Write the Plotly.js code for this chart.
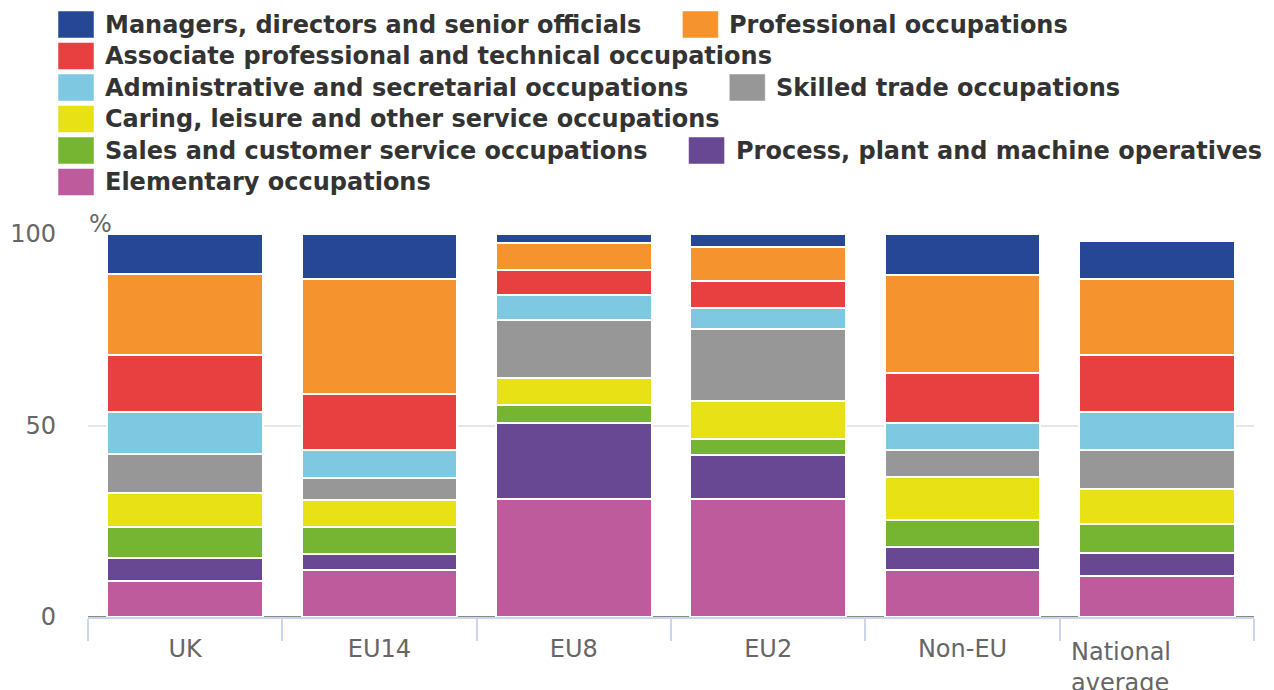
<!DOCTYPE html>
<html>
<head>
<meta charset="utf-8">
<script src="https://cdn.plot.ly/plotly-3.0.1.min.js"></script>
<style>
  html, body { margin: 0; padding: 0; background: #fff; }
  #graph { width: 1274px; height: 690px; }
</style>
</head>
<body>
<div id="graph"></div>
<script>
const groups = ['UK', 'EU14', 'EU8', 'EU2', 'Non-EU', 'National average'];

// shares in %, one value per group
const elementary   = [9.5, 12.4, 30.7, 30.7, 12.4, 10.7];
const process      = [6.0, 4.1, 20.0, 11.7, 5.9, 5.9];
const sales        = [8.0, 7.1, 4.6, 4.1, 7.0, 7.7];
const caring       = [9.0, 7.0, 7.1, 10.0, 11.2, 9.2];
const skilled      = [10.0, 5.8, 15.2, 18.8, 7.0, 10.1];
const admin        = [11.0, 7.2, 6.6, 5.3, 7.2, 10.0];
const associate    = [15.0, 14.7, 6.4, 7.0, 12.9, 14.7];
const professional = [21.0, 29.9, 7.0, 8.9, 25.8, 20.0];
const managers     = [10.5, 11.8, 2.4, 3.5, 10.6, 9.9];

// bottom to top of the stack
const series = [
    {name: 'Elementary occupations', values: elementary, color: '#bd5b9c'},
    {name: 'Process, plant and machine operatives', values: process, color: '#684793'},
    {name: 'Sales and customer service occupations', values: sales, color: '#76b531'},
    {name: 'Caring, leisure and other service occupations', values: caring, color: '#e8e116'},
    {name: 'Skilled trade occupations', values: skilled, color: '#979797'},
    {name: 'Administrative and secretarial occupations', values: admin, color: '#7ec8e1'},
    {name: 'Associate professional and technical occupations', values: associate, color: '#e83f40'},
    {name: 'Professional occupations', values: professional, color: '#f5932f'},
    {name: 'Managers, directors and senior officials', values: managers, color: '#264795'},
];

// how the legend wraps in the picture
const legendRows = [
    ['Managers, directors and senior officials', 'Professional occupations'],
    ['Associate professional and technical occupations'],
    ['Administrative and secretarial occupations', 'Skilled trade occupations'],
    ['Caring, leisure and other service occupations'],
    ['Sales and customer service occupations', 'Process, plant and machine operatives'],
    ['Elementary occupations'],
];

const W = 1274, H = 690;
const margin = {l: 88, r: 20, t: 234, b: 73};
const plotW = W - margin.l - margin.r;
const plotH = H - margin.t - margin.b;
const toPaperX = x => (x - margin.l) / plotW;
const toPaperY = y => (H - margin.b - y) / plotH;

const legendFont = 'bold 24px "DejaVu Sans"';
const canvas = document.createElement('canvas').getContext('2d');
canvas.font = legendFont;

function buildLegend() {
    const shapes = [];
    const annotations = [];
    const swatchW = 36, swatchH = 27, textGap = 9, itemGap = 43;
    legendRows.forEach((row, r) => {
        const cy = 24.5 + r * 31.5;
        let x = 58;
        row.forEach(name => {
            const s = series.find(item => item.name === name);
            shapes.push({
                type: 'rect', xref: 'paper', yref: 'paper',
                x0: toPaperX(x), x1: toPaperX(x + swatchW),
                y0: toPaperY(cy - swatchH / 2), y1: toPaperY(cy + swatchH / 2),
                fillcolor: s.color, line: {color: 'rgba(255,255,255,0.5)', width: 1},
            });
            annotations.push({
                xref: 'paper', yref: 'paper',
                x: toPaperX(x + swatchW + textGap), y: toPaperY(cy),
                xanchor: 'left', yanchor: 'middle', showarrow: false,
                text: '<b>' + name + '</b>',
                font: {family: 'DejaVu Sans', size: 24, color: '#333333'},
            });
            x += swatchW + textGap + canvas.measureText(name).width + itemGap;
        });
    });
    return {shapes, annotations};
}

const traces = series.map(s => ({
    type: 'bar',
    name: s.name,
    x: groups,
    y: s.values,
    marker: {color: s.color, line: {color: '#ffffff', width: 2}},
    showlegend: false,
    hoverinfo: 'name+y',
}));

const legend = buildLegend();

const annotations = legend.annotations.concat([
    {
        xref: 'paper', yref: 'paper', x: 0, y: 1,
        xanchor: 'left', yanchor: 'bottom', xshift: -1, yshift: -6,
        text: '%', showarrow: false,
        font: {family: 'DejaVu Sans', size: 24, color: '#666666'},
    },
    {
        xref: 'x', yref: 'paper', x: groups[5], y: 0,
        xanchor: 'left', yanchor: 'top', xshift: -88, yshift: -19,
        align: 'left', showarrow: false,
        text: 'National<br>average',
        font: {family: 'DejaVu Sans', size: 24, color: '#666666'},
    },
]);

const layout = {
    width: W,
    height: H,
    margin: margin,
    paper_bgcolor: '#ffffff',
    plot_bgcolor: '#ffffff',
    barmode: 'stack',
    bargap: 0.2,
    showlegend: false,
    font: {family: 'DejaVu Sans', size: 24, color: '#666666'},
    xaxis: {
        type: 'category',
        tickmode: 'array',
        tickvals: groups,
        ticktext: groups.map((g, i) => i === groups.length - 1 ? '' : g),
        tickson: 'boundaries',
        ticks: 'outside',
        ticklen: 22,
        tickwidth: 2,
        tickcolor: '#ccd6eb',
        showline: true,
        linecolor: '#ccd6eb',
        linewidth: 2,
        showgrid: false,
        ticklabelstandoff: 9,
        tickfont: {family: 'DejaVu Sans', size: 24, color: '#666666'},
    },
    yaxis: {
        range: [0, 100],
        tickvals: [0, 50, 100],
        showgrid: true,
        gridcolor: '#e6e6e6',
        gridwidth: 2,
        zeroline: true,
        zerolinecolor: '#888888',
        zerolinewidth: 2,
        showline: false,
        ticks: '',
        ticklabelstandoff: 31,
        tickfont: {family: 'DejaVu Sans', size: 24, color: '#666666'},
    },
    shapes: legend.shapes,
    annotations: annotations,
};

Plotly.newPlot('graph', traces, layout, {displayModeBar: false, responsive: false});
</script>
</body>
</html>
